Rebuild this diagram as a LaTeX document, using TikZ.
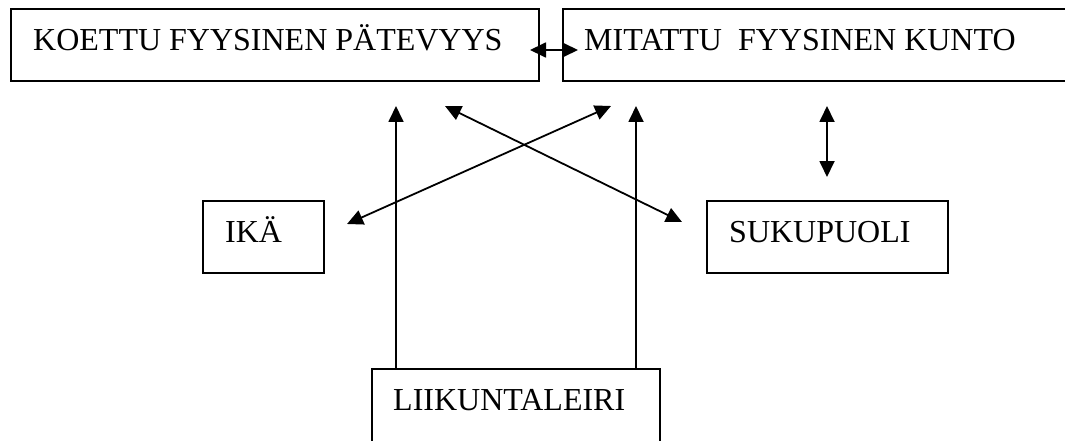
\documentclass[tikz,border=0pt]{standalone}
\usepackage{fontspec}
\setmainfont{Liberation Serif}
\usetikzlibrary{arrows.meta}
\begin{document}
\begin{tikzpicture}[
  x=1pt, y=-1pt,
  box/.style={draw, line width=1.7pt, rectangle, inner sep=0pt, outer sep=0pt, anchor=north west},
  lbl/.style={anchor=base west, inner sep=0pt, font=\fontsize{32}{38}\selectfont},
  both/.style={line width=1.8pt, {Triangle[length=16pt, width=15pt]}-{Triangle[length=16pt, width=15pt]}},
  onearrow/.style={line width=1.8pt, -{Triangle[length=16pt, width=15pt]}}
]
\useasboundingbox (0,0) rectangle (1065,441);
\clip (0,0) rectangle (1065,441);

% boxes
\node[box, minimum width=528pt, minimum height=72pt] (koettu) at (11,9) {};
\node[box, minimum width=520pt, minimum height=72pt] (mitattu) at (563,9) {};
\node[box, minimum width=121pt, minimum height=72pt] (ika) at (203,201) {};
\node[box, minimum width=241pt, minimum height=72pt] (suku) at (707,201) {};
\node[box, minimum width=288pt, minimum height=90pt] (leiri) at (372,369) {};

% texts
\node[lbl] (koettuT) at (33,50.5) {KOETTU FYYSINEN PÄTEVYYS};
\node[lbl] (mitattuT) at (584,50.5) {MITATTU~ FYYSINEN KUNTO};
\node[lbl] (ikaT) at (225,242.5) {IKÄ};
\node[lbl] (sukuT) at (729,242.5) {SUKUPUOLI};
\node[lbl] (leiriT) at (393,410) {LIIKUNTALEIRI};

% arrow ends
\coordinate (kmL) at (530,50);
\coordinate (kmR) at (578,50);
\coordinate (ikaTip) at (347,224);
\coordinate (mitTip) at (611,106);
\coordinate (koeTip) at (445,106);
\coordinate (sukTip) at (682,222);
\coordinate (kuntoTip) at (827,106);
\coordinate (sukTop) at (827,177);
\coordinate (upA) at (396,106);
\coordinate (upB) at (636,106);

% connectors
\draw[both] (kmL) -- (kmR);
\draw[both] (ikaTip) -- (mitTip);
\draw[both] (koeTip) -- (sukTip);
\draw[both] (kuntoTip) -- (sukTop);
\draw[onearrow] (upA |- leiri.north) -- (upA);
\draw[onearrow] (upB |- leiri.north) -- (upB);
\end{tikzpicture}
\end{document}
